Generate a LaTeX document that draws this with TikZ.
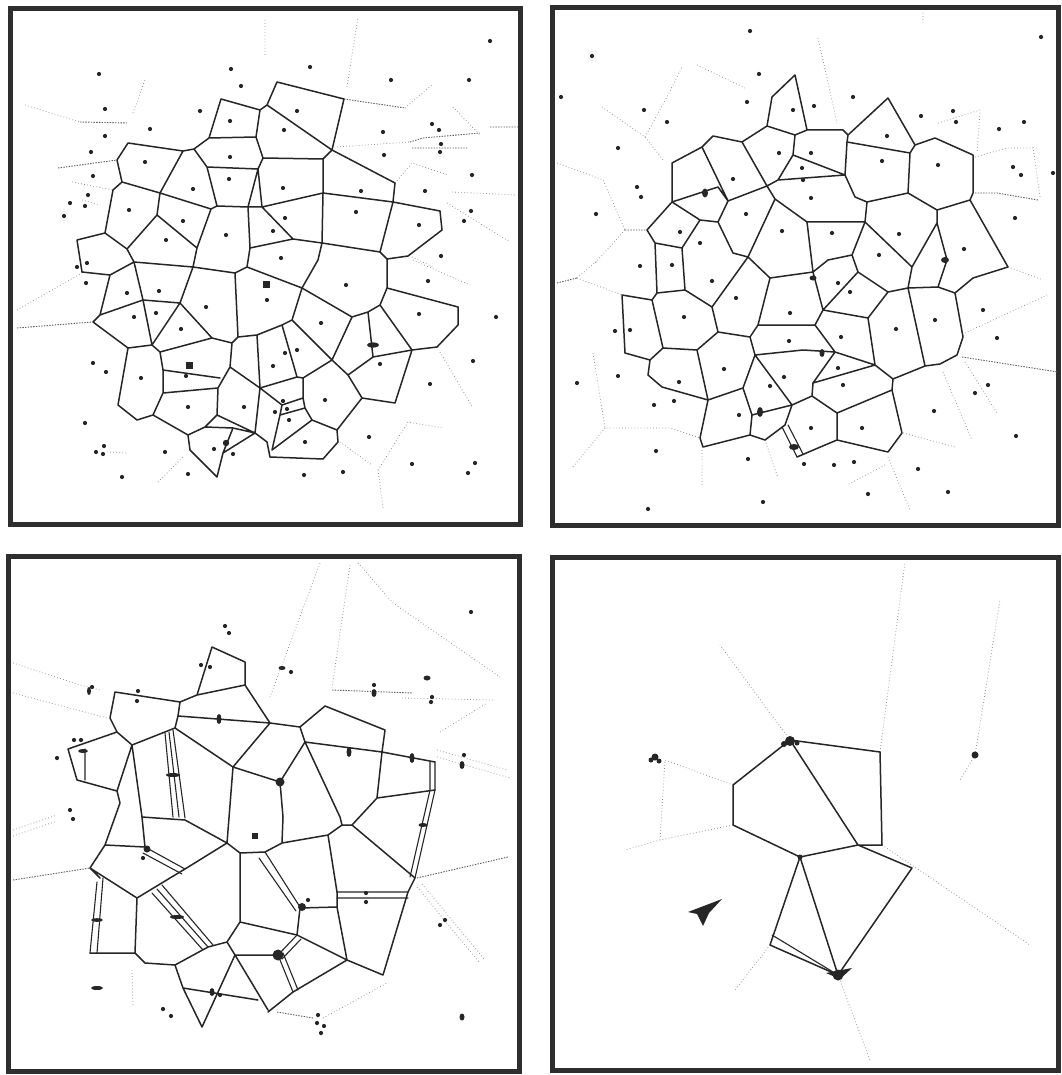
\documentclass[tikz,border=0pt]{standalone}
\usetikzlibrary{calc}
\tikzset{
 frm/.style={line width=5pt, draw=black!82},
 cl/.style={line width=1.5pt, draw=black!85, line join=round, line cap=round},
 thin/.style={line width=1.1pt, draw=black!85, line join=round, line cap=round},
 dl/.style={draw=black!45, line width=0.8pt, dash pattern=on 0.7pt off 2.4pt},
 dk/.style={draw=black!65, line width=0.9pt, dash pattern=on 1.4pt off 1.3pt},
}
\newcommand\pts[1]{\foreach \p in {#1}{\fill[black!85] \p circle[radius=2.1pt];}}
\begin{document}
\begin{tikzpicture}[x=1pt,y=-1pt]
\useasboundingbox (0,0) rectangle (1061,1075);
\fill[white] (0,0) rectangle (1061,1075);
% frames
\draw[frm] (10,9) rectangle (520,524);
\draw[frm] (552,8) rectangle (1058,525);
\draw[frm] (8,556) rectangle (519,1071);
\draw[frm] (552,557) rectangle (1058,1070);

% ================= TOP LEFT =================
\draw[dl] (25,105)--(80,122);
\draw[dk] (80,122)--(127,123);
\draw[dk] (58,168)--(117,160);
\draw[dl] (72,182)--(113,190) (82,200)--(100,205) (133,113)--(145,80);
\draw[dk] (344,99)--(405,108);
\draw[dl] (405,108)--(432,85) (337,147)--(410,142);
\draw[dk] (410,142)--(423,138)--(480,133) (412,148)--(468,148) (490,127)--(518,127);
\draw[dl] (453,107)--(480,135) (395,183)--(412,163)--(448,175) (452,192)--(517,195)
 (447,203)--(510,242) (412,257)--(433,267) (347,87)--(358,17) (265,20)--(265,57)
 (413,260)--(470,285) (440,352)--(473,408) (378,470)--(408,422)--(443,428)
 (378,470)--(383,508) (340,442)--(372,465) (17,310)--(82,273) (107,452)--(128,453)
 (158,482)--(183,457);
\draw[dk] (17,328)--(92,322);

\draw[cl] (221,99)--(260,110)--(267,105)--(277,82)--(344,99)--(332,150)--(323,159)
 (267,105)--(332,150)
 (260,110)--(256,137)--(263,158)--(323,159)
 (221,99)--(209,138)--(256,137)
 (209,138)--(194,149)--(183,151)--(128,143)--(117,160)--(122,182)--(160,193)--(183,151)
 (194,149)--(207,167)--(258,169)--(263,158)
 (207,167)--(217,206)--(248,207)--(258,169)
 (160,193)--(211,209)--(217,206)
 (258,169)--(262,207)--(323,193)--(323,159)
 (332,150)--(395,183)--(393,202)--(323,193)--(322,243)--(293,239)--(262,207)
 (248,207)--(262,207)
 (393,202)--(380,252)--(322,243)
 (393,202)--(440,211)--(442,230)--(408,256)--(387,259)--(380,252)
 (122,182)--(113,190)--(105,233)--(127,249)--(157,215)--(160,193)
 (157,215)--(197,248)--(211,209)
 (248,207)--(250,248)--(247,267)
 (293,239)--(250,248)
 (105,233)--(77,240)--(82,272)--(110,275)--(134,262)--(127,249)
 (110,275)--(100,315)--(143,300)--(134,262)
 (134,262)--(193,267)--(180,303)--(143,300)
 (193,267)--(197,248)
 (193,267)--(235,273)--(247,267)
 (235,273)--(238,337)--(232,343)--(212,338)--(180,303)
 (100,315)--(93,322)--(128,348)--(152,345)--(143,300)
 (180,303)--(152,345)--(160,352)--(212,338)
 (160,352)--(163,370)--(220,378)
 (163,370)--(163,393)--(218,388)--(230,367)--(232,343)
 (128,348)--(118,405)--(137,420)--(153,415)--(163,393)
 (218,388)--(217,415)--(205,427)--(188,435)--(153,415)
 (230,367)--(260,388)--(255,433)--(217,415)
 (238,337)--(257,335)--(260,388)
 (205,427)--(233,428)--(223,453)--(217,477)--(190,450)--(188,435)
 (233,428)--(255,433) (223,453)--(255,433)--(267,442)
 (247,267)--(302,288)
 (322,243)--(318,260)--(302,288)
 (387,259)--(387,288)--(380,305)--(368,312)--(352,317)--(302,288)
 (387,288)--(458,307)--(458,325)--(437,347)--(412,350)--(380,305)
 (368,312)--(373,357)--(412,350)
 (352,317)--(332,360)
 (373,357)--(348,375)--(332,360)
 (412,350)--(395,403)--(362,398)--(348,375)
 (362,398)--(337,430)
 (332,360)--(303,378)
 (302,288)--(292,320)--(332,360)
 (292,320)--(282,325)--(257,335)
 (282,325)--(297,377)--(303,378)
 (297,377)--(260,388)
 (303,378)--(303,398)--(282,405)--(280,415)--(305,408)--(303,398)
 (305,408)--(312,420)--(337,430)--(338,442)--(323,459)--(270,457)--(267,442)
 (272,450)--(312,420) (280,415)--(272,450) (260,388)--(282,405);

\pts{(99,74),(231,69),(241,86),(200,111),(105,109),(150,129),(105,136),(91,152),(93,176),(88,195),(70,203),(85,206),(64,216),(145,162),(193,189),(230,121),(230,157),(229,179),(129,210),(183,221),(166,240),(226,235),(87,263),(77,267),
(297,111),(284,130),(283,188),(361,191),(356,212),(285,218),(273,231),(281,258),(419,225),(383,132),(384,155),(310,67),(391,80),(469,80),(490,41),(432,124),(439,130),(441,144),(440,152),(472,175),(425,191),(471,211),(464,221),(441,256),
(86,283),(127,293),(159,291),(134,317),(156,313),(181,329),(206,307),(267,300),(186,376),(141,378),(93,363),(106,372),(188,407),(244,407),(85,423),(104,446),(96,452),(103,454),(165,452),(214,449),(233,454),(188,474),(122,477),
(346,285),(428,281),(419,314),(496,317),(321,323),(297,350),(285,353),(273,366),(380,364),(473,361),(430,384),(325,400),(283,401),(287,409),(275,412),(289,420),(305,442),(369,437),(412,464),(475,463),(468,473),(343,472),(304,475)}
\fill[black!85] (262.5,280.5) rectangle (269.5,287.5);
\fill[black!85] (185.5,361.5) rectangle (192.5,368.5);
\fill[black!85] (226,443) circle[radius=3.2pt];
\fill[black!85] (373,345) ellipse[x radius=6pt, y radius=2.6pt];

% ================= TOP RIGHT =================
\draw[dl] (602,107)--(645,137)--(663,160) (645,137)--(667,97)--(682,67) (697,65)--(745,88)
 (557,163)--(603,180)--(625,230) (625,230)--(595,263)
 (975,157)--(1007,148)--(1037,148) (980,113)--(977,153) (938,123)--(980,110)
 (1033,147)--(1040,197) (818,38)--(837,123) (923,13)--(923,23)
 (1008,267)--(1043,280) (965,333)--(1047,295) (943,372)--(972,440) (965,362)--(997,413)
 (903,433)--(955,447) (885,465)--(847,485) (888,457)--(910,510)
 (577,278)--(622,295) (577,278)--(598,260)
 (593,353)--(605,428)--(670,428)--(700,438) (605,428)--(572,468) (702,447)--(702,487)
 (765,440)--(778,478);
\draw[dk] (625,230)--(647,230) (975,193)--(997,193)--(1038,200) (962,357)--(1058,372) (557,283)--(577,278);

\draw[cl] (772,97)--(795,75)--(807,130)--(795,135)--(767,126)--(772,97)
 (767,126)--(742,142)--(713,136)--(702,147)--(672,163)--(672,202)--(647,230)--(655,243)--(682,248)--(700,220)--(672,202)
 (700,220)--(718,222)--(728,201)--(702,147)
 (728,201)--(767,186)--(742,142)
 (767,186)--(778,180)--(793,155)--(795,135)
 (672,202)--(718,187)--(728,201)
 (767,186)--(775,199)--(748,257)--(733,253)--(718,222)
 (807,130)--(843,130)--(848,135)--(888,98)--(915,145)--(910,153)--(847,142)--(848,135)
 (915,145)--(935,138)--(973,155)--(973,193)--(970,200)--(937,210)--(908,193)--(910,153)
 (908,193)--(867,202)--(855,197)--(845,175)--(847,142)
 (793,155)--(845,175) (778,180)--(845,175)
 (775,199)--(807,222)--(865,222)--(867,202)
 (865,222)--(852,255)--(828,260)--(813,272)--(807,222)
 (813,272)--(770,278)
 (852,255)--(858,272)--(823,310)--(813,272)
 (858,272)--(888,292)--(868,318)--(823,310)
 (865,222)--(912,267)--(908,288)--(888,292)
 (937,210)--(937,223)--(912,267)
 (937,223)--(947,260)--(938,287)--(908,288)
 (970,200)--(1008,267)--(973,278)--(955,293)--(938,287)
 (955,293)--(963,337)--(957,355)--(940,364)--(925,366)--(908,288)
 (925,366)--(893,379)--(875,365)--(868,318)
 (823,310)--(815,325)--(835,352)--(875,365)
 (815,325)--(758,325)
 (770,278)--(758,325)--(750,337)--(718,332)--(712,307)--(748,257)--(770,278)
 (682,248)--(685,290)--(712,307)
 (655,243)--(657,293)--(685,290)
 (657,293)--(652,300)--(622,295)--(625,353)--(650,360)--(663,348)--(652,300)
 (663,348)--(697,350)--(718,332)
 (650,360)--(648,375)--(662,387)--(708,400)--(697,350)
 (708,400)--(743,388)--(755,355)--(750,337)
 (755,355)--(803,350)--(835,352)
 (835,352)--(813,383)--(875,365)
 (813,383)--(812,396)--(792,405)--(755,355)
 (893,379)--(892,390)--(837,413)--(812,396)
 (892,390)--(902,433)--(888,452)--(837,440)--(837,413)
 (837,440)--(818,448)--(797,457)
 (708,400)--(700,438)--(703,447)--(750,435)--(752,415)--(743,388)
 (752,415)--(792,405)--(785,425)--(765,440)--(750,435);
\draw[thin] (782,427)--(797,457) (788,425)--(803,454);

\pts{(750,31),(592,56),(561,97),(759,74),(747,102),(644,110),(667,122),(618,148),(779,153),(811,153),(802,168),(803,180),(811,198),(733,179),(637,187),(641,197),(596,214),(746,214),(782,231),(680,232),(700,243),(672,265),(640,266),
(1041,37),(853,97),(814,106),(921,116),(953,111),(956,122),(999,129),(1024,122),(1013,167),(1021,175),(1053,173),(1015,218),(832,233),(899,234),(879,255),(964,249),(887,136),(882,161),(938,165),(793,110),
(712,281),(736,298),(684,317),(790,313),(630,330),(615,331),(789,341),(724,369),(784,377),(770,386),(679,382),(577,383),(618,376),(654,405),(674,401),(739,415),(811,428),(656,451),(748,459),(804,464),(763,502),(648,509),
(838,283),(850,292),(841,337),(838,368),(843,385),(896,329),(935,320),(862,428),(983,310),(997,338),(988,385),(975,393),(934,411),(1016,436),(834,465),(854,462),(918,469),(948,492),(868,494)}
\fill[black!85] (705,193) ellipse[x radius=3pt, y radius=4.5pt];
\fill[black!85] (945,260) ellipse[x radius=4pt, y radius=3pt];
\fill[black!85] (760,412) ellipse[x radius=3pt, y radius=5pt];
\fill[black!85] (794,447) ellipse[x radius=5pt, y radius=3pt];
\fill[black!85] (813,278) ellipse[x radius=3.5pt, y radius=2.5pt];
\fill[black!85] (822,353) ellipse[x radius=2.5pt, y radius=4pt];

% ================= BOTTOM LEFT =================
\draw[dl] (13,663)--(80,685)--(100,690) (13,693)--(107,718) (13,830)--(57,815) (13,836)--(57,821)
 (320,563)--(270,697) (350,565)--(332,688) (358,563)--(393,603)--(500,677)
 (402,698)--(495,700) (440,732)--(487,703) (437,750)--(507,770) (437,757)--(510,778)
 (417,887)--(480,963) (422,884)--(485,960) (323,1018)--(387,983) (132,970)--(133,1007);
\draw[dk] (13,880)--(90,868) (332,690)--(413,693) (417,878)--(508,857) (277,1012)--(313,1018);

\draw[cl] (212,647)--(245,662)--(245,685)--(197,695)--(212,647)
 (197,695)--(180,702)--(115,692)--(110,718)--(117,732)--(132,745)--(175,728)--(178,716)--(180,702)
 (178,716)--(270,723)--(245,685)
 (175,728)--(233,767)--(270,723)
 (117,732)--(68,749)--(77,780)--(117,791)--(132,745)
 (117,791)--(120,803)--(105,845)--(90,868)--(137,898)--(170,878)--(185,869)
 (132,745)--(142,817)--(145,847)--(105,845)
 (185,869)--(227,843)--(240,853)
 (233,767)--(227,843)
 (142,817)--(185,820)--(227,843)
 (240,853)--(240,922)--(227,942)--(208,947)--(175,965)--(145,963)--(135,953)--(137,898)
 (135,953)--(90,953)
 (90,868)--(100,878)
 (227,942)--(235,955)--(268,1010)
 (235,955)--(202,1027)--(183,988)--(175,965)
 (183,988)--(258,1000)
 (235,955)--(278,955)
 (240,922)--(297,935)
 (240,853)--(265,852)--(282,843)--(328,835)--(342,825)--(352,825)--(415,878)--(408,892)--(383,975)--(347,960)--(337,907)--(337,892)--(328,835)
 (337,907)--(300,908)--(297,935)--(347,960)
 (347,960)--(293,992)--(268,1012)
 (282,843)--(283,817)--(280,782)
 (280,782)--(305,742)
 (280,782)--(233,767)
 (305,742)--(340,817)--(342,825)
 (270,723)--(300,727)--(325,706)--(385,730)--(382,752)--(305,742)--(300,727)
 (382,752)--(435,762)
 (382,752)--(377,798)--(435,790)
 (377,798)--(352,825);
\draw[thin] (85,749)--(85,780)
 (145,847)--(185,869) (143,853)--(182,874)
 (97,882)--(90,953) (103,878)--(97,953)
 (337,892)--(408,892) (337,898)--(408,898)
 (265,852)--(300,907) (259,858)--(296,911)
 (297,935)--(278,955) (301,939)--(282,959)
 (278,955)--(293,992) (283,953)--(298,990)
 (435,762)--(435,790)--(415,878) (430,762)--(430,790)--(410,877)
 (165,733)--(173,817) (169,732)--(179,817) (173,730)--(185,818)
 (152,893)--(203,950) (157,889)--(208,947) (162,885)--(213,945);

\pts{(225,626),(229,633),(201,665),(210,667),(92,687),(138,691),(137,701),(74,740),(81,740),(57,758),(70,810),(73,819),(143,858),(220,995),(163,1009),(171,1016),(308,900),(366,893),(366,902),(445,920),(440,925),(318,1015),(317,1023),(324,1026),(321,1033),(471,612),(291,672),(374,685),(432,697),(431,702),(464,755)}
\fill[black!85] (251.5,832.5) rectangle (257.5,838.5);
\fill[black!85] (89,691) ellipse[x radius=2pt, y radius=4pt];
\fill[black!85] (219,719) ellipse[x radius=2.5pt, y radius=5pt];
\fill[black!85] (173,775) ellipse[x radius=7pt, y radius=2pt];
\fill[black!85] (147,849) circle[radius=3.5pt];
\fill[black!85] (97,920) ellipse[x radius=6pt, y radius=1.8pt];
\fill[black!85] (83,751) ellipse[x radius=5pt, y radius=2pt];
\fill[black!85] (212,992) ellipse[x radius=2.5pt, y radius=4pt];
\fill[black!85] (280,782) circle[radius=4.5pt];
\fill[black!85] (302,907) circle[radius=4pt];
\fill[black!85] (278,955) circle[radius=5.5pt];
\fill[black!85] (349,752) ellipse[x radius=2.5pt, y radius=5pt];
\fill[black!85] (412,758) ellipse[x radius=2.5pt, y radius=5pt];
\fill[black!85] (423,825) ellipse[x radius=4.5pt, y radius=2pt];
\fill[black!85] (282,668) ellipse[x radius=3.5pt, y radius=2pt];
\fill[black!85] (427,678) ellipse[x radius=3.5pt, y radius=2.5pt];
\fill[black!85] (374,693) ellipse[x radius=2.5pt, y radius=4pt];
\fill[black!85] (462,765) ellipse[x radius=2.5pt, y radius=4pt];
\fill[black!85] (97,988) ellipse[x radius=6pt, y radius=2pt];
\fill[black!85] (462,1017) ellipse[x radius=2.5pt, y radius=3.5pt];
\fill[black!85] (177,917) ellipse[x radius=7pt, y radius=2pt];

% ================= BOTTOM RIGHT =================
\draw[dl] (790,740)--(720,645) (880,752)--(905,562) (882,845)--(1030,945)
 (838,975)--(870,1060) (770,945)--(735,990) (733,825)--(660,840)--(625,850)
 (733,785)--(665,760)--(660,840) (975,755)--(1000,600) (975,755)--(960,780);
\draw[cl] (733,785)--(790,740)--(880,752)--(882,845)--(858,845)--(800,857)--(733,825)--(733,785)
 (790,740)--(858,845)
 (858,845)--(912,868)--(838,975)--(770,945)--(800,857)
 (800,857)--(838,975);
\draw[thin] (772,935)--(838,975);
\fill[black!85] (790,741) circle[radius=5pt];
\fill[black!85] (784,744) circle[radius=3pt] (797,743) circle[radius=2.5pt];
\fill[black!85] (838,975) circle[radius=5.5pt];
\fill[black!85] (826,973)--(852,968)--(840,979)--cycle;
\fill[black!85] (800,857) circle[radius=2.5pt];
\fill[black!85] (655,757) circle[radius=3.5pt];
\fill[black!85] (651,760) circle[radius=2.5pt] (659,761) circle[radius=2.5pt];
\fill[black!85] (975,755) circle[radius=3.5pt];
\fill[black!85] (688,912)--(722,899)--(709,913)--(703,926)--(697,914)--cycle;
\end{tikzpicture}
\end{document}
